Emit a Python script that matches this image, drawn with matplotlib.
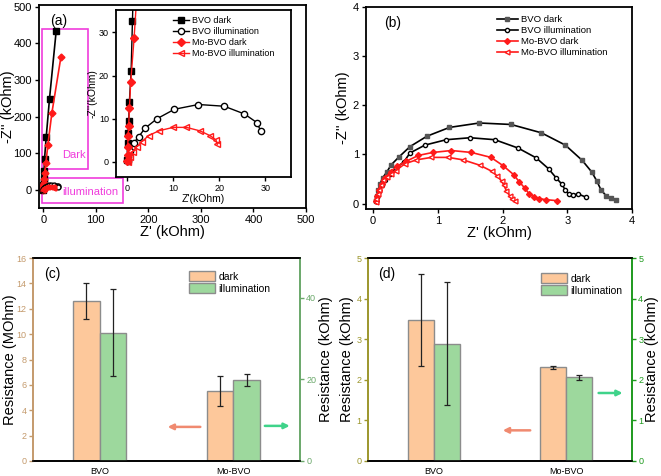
import numpy as np
import matplotlib
matplotlib.use('Agg')
import matplotlib.pyplot as plt
from matplotlib.patches import Rectangle, Patch

plt.rcParams['font.family'] = ['Liberation Sans', 'DejaVu Sans']

# ---- (a) Nyquist, wide range (kOhm) ----
bvo_dark_x = [0.05, 0.15, 0.22, 0.36, 0.5, 0.88, 1.17, 1.6, 2.5, 5.7, 12, 24.7]
bvo_dark_y = [0.5, 4.3, 6.6, 9.5, 13.9, 21, 32.6, 50, 84, 144, 249, 434]
mo_dark_x = [0.05, 0.1, 0.15, 0.22, 0.36, 0.51, 0.8, 1.53, 2.5, 5.1, 8.9, 16.5, 33.6]
mo_dark_y = [0.2, 1.5, 3.5, 6.0, 8.3, 12.4, 18.5, 28.7, 45, 73, 123, 210, 362]
bvo_ill_x = [0.1, 0.3, 0.6, 1.4, 2.5, 3.9, 6.5, 10.3, 15.5, 21.1, 25.5, 28.2, 29.0]
bvo_ill_y = [0.2, 1.2, 2.5, 4.3, 5.8, 7.8, 10.0, 12.2, 13.3, 12.9, 11.1, 9.1, 7.2]
mo_ill_x = [0.1, 0.3, 0.7, 1.2, 2.1, 3.2, 4.7, 6.9, 10.0, 12.9, 15.8, 18.0, 19.3, 19.6]
mo_ill_y = [0.0, 0.4, 1.2, 2.4, 3.5, 4.7, 6.1, 7.2, 8.0, 8.0, 7.2, 6.1, 5.1, 4.1]

# ---- (b) Nyquist, kOhm ----
b_bvo_dark_x = [0.04, 0.06, 0.08, 0.11, 0.145, 0.21, 0.28, 0.40, 0.57, 0.83, 1.18, 1.64,
                2.13, 2.60, 2.97, 3.23, 3.38, 3.46, 3.52, 3.60, 3.68, 3.76]
b_bvo_dark_y = [0.05, 0.15, 0.27, 0.40, 0.52, 0.64, 0.79, 0.95, 1.16, 1.37, 1.55, 1.64,
                1.61, 1.44, 1.19, 0.88, 0.64, 0.45, 0.28, 0.16, 0.11, 0.08]
b_bvo_ill_x = [0.04, 0.06, 0.09, 0.13, 0.18, 0.26, 0.36, 0.475, 0.57, 0.80, 1.13, 1.50, 1.88,
               2.24, 2.52, 2.71, 2.83, 2.92, 2.97, 3.02, 3.09, 3.16, 3.29]
b_bvo_ill_y = [0.05, 0.14, 0.25, 0.37, 0.49, 0.61, 0.73, 0.85, 1.03, 1.19, 1.30, 1.34, 1.30,
               1.13, 0.93, 0.71, 0.52, 0.39, 0.27, 0.20, 0.17, 0.20, 0.13]
b_mo_dark_x = [0.04, 0.06, 0.09, 0.13, 0.19, 0.27, 0.37, 0.51, 0.70, 0.92, 1.21, 1.52, 1.82,
               2.01, 2.17, 2.26, 2.34, 2.41, 2.48, 2.57, 2.67, 2.84]
b_mo_dark_y = [0.05, 0.15, 0.27, 0.40, 0.53, 0.65, 0.76, 0.86, 0.98, 1.04, 1.08, 1.04, 0.94,
               0.77, 0.59, 0.44, 0.32, 0.20, 0.14, 0.10, 0.08, 0.06]
b_mo_ill_x = [0.04, 0.05, 0.07, 0.09, 0.12, 0.16, 0.21, 0.27, 0.35, 0.49, 0.67, 0.90, 1.16,
              1.39, 1.65, 1.83, 1.92, 1.99, 2.02, 2.06, 2.11, 2.14, 2.19]
b_mo_ill_y = [0.03, 0.10, 0.19, 0.28, 0.38, 0.47, 0.55, 0.61, 0.67, 0.81, 0.89, 0.94, 0.94,
              0.89, 0.78, 0.66, 0.56, 0.45, 0.37, 0.26, 0.16, 0.10, 0.05]

# ---- (c), (d) resistances ----
samples = ['BVO', 'Mo-BVO']
c_dark = [12.6, 5.5]          # MOhm
c_dark_err = [1.4, 1.2]
c_ill = [31.4, 19.8]          # kOhm
c_ill_err = [10.7, 1.4]
d_dark = [3.47, 2.31]         # kOhm
d_dark_err = [1.13, 0.04]
d_ill = [2.89, 2.06]
d_ill_err = [1.51, 0.06]

W, H = 661, 476
fig = plt.figure(figsize=(W / 100, H / 100), dpi=100)


def box(x0, y0, x1, y1):
    return [x0 / W, 1 - y1 / H, (x1 - x0) / W, (y1 - y0) / H]


def style(ax, fs=7):
    ax.tick_params(direction='out', length=3, width=1, labelsize=fs, pad=2)
    for s in ax.spines.values():
        s.set_linewidth(1.3)


magenta = '#f03cdc'
red = '#ff1a1a'

# (a)
axA = fig.add_axes(box(39, 5, 306, 208))
axA.plot(bvo_dark_x, bvo_dark_y, 'k-s', ms=4, lw=1.2)
axA.plot(mo_dark_x, mo_dark_y, '-D', color=red, ms=3.5, lw=1.2)
axA.plot(bvo_ill_x, bvo_ill_y, 'k-o', mfc='white', ms=3.5, lw=1)
axA.plot(mo_ill_x, mo_ill_y, '-<', color=red, mfc='none', ms=3.5, lw=1)
axA.set_xlim(-8, 500)
axA.set_ylim(-50, 505)
axA.set_xticks(range(0, 501, 100))
axA.set_yticks(range(0, 501, 100))
axA.set_xlabel("Z' (kOhm)", fontsize=10.5, labelpad=0)
axA.set_ylabel("-Z'' (kOhm)", fontsize=10.5, labelpad=-1)
style(axA, 8)
axA.text(0.04, 0.955, '(a)', transform=axA.transAxes, fontsize=10, va='top')
axA.add_patch(Rectangle((-1.5, 57), 87.5, 382, fill=False, ec=magenta, lw=1.2))
axA.add_patch(Rectangle((-1.5, -36), 154, 68, fill=False, ec=magenta, lw=1.2))
axA.text(36, 95, 'Dark', color=magenta, fontsize=8, va='center')
axA.text(37, -5, 'illumination', color=magenta, fontsize=8, va='center')

axI = fig.add_axes(box(116, 10, 291, 177))
axI.plot(bvo_dark_x, bvo_dark_y, 'k-s', ms=4.5, lw=1, label='BVO dark')
axI.plot(bvo_ill_x, bvo_ill_y, 'k-o', mfc='white', ms=4.5, lw=1, label='BVO illumination')
axI.plot(mo_dark_x, mo_dark_y, '-D', color=red, ms=4, lw=1, label='Mo-BVO dark')
axI.plot(mo_ill_x, mo_ill_y, '-<', color=red, mfc='none', ms=4.5, lw=1,
         label='Mo-BVO illumination')
axI.set_xlim(-2.4, 35.6)
axI.set_ylim(-3.5, 35.2)
axI.set_xticks([0, 10, 20, 30])
axI.set_yticks([0, 10, 20, 30])
axI.set_xlabel("Z'(kOhm)", fontsize=7.5, labelpad=1)
axI.set_ylabel("-Z''(kOhm)", fontsize=7.5, labelpad=1)
style(axI, 6.5)
axI.legend(loc='upper left', bbox_to_anchor=(0.28, 1.01), frameon=False, fontsize=6.5,
           handlelength=1.8, handletextpad=0.3, labelspacing=0.2)

# (b)
axB = fig.add_axes(box(366, 7, 632, 209))
axB.plot(b_bvo_dark_x, b_bvo_dark_y, '-s', color='k', mfc='#555555', mec='#555555',
         ms=3, lw=1.2, label='BVO dark')
axB.plot(b_bvo_ill_x, b_bvo_ill_y, 'k-o', mfc='white', ms=3, lw=1.2, label='BVO illumination')
axB.plot(b_mo_dark_x, b_mo_dark_y, '-D', color=red, ms=3, lw=1.2, label='Mo-BVO dark')
axB.plot(b_mo_ill_x, b_mo_ill_y, '-<', color=red, mfc='white', ms=3.5, lw=1.2,
         label='Mo-BVO illumination')
axB.set_xlim(-0.11, 4)
axB.set_ylim(-0.11, 4)
axB.set_xticks([0, 1, 2, 3, 4])
axB.set_yticks([0, 1, 2, 3, 4])
axB.set_xlabel("Z' (kOhm)", fontsize=10.5, labelpad=0)
axB.set_ylabel("-Z'' (kOhm)", fontsize=10.5, labelpad=2)
style(axB, 8)
axB.text(0.07, 0.955, '(b)', transform=axB.transAxes, fontsize=10, va='top')
axB.legend(loc='upper left', bbox_to_anchor=(0.46, 1.0), frameon=False, fontsize=6.8,
           handlelength=2.2, handletextpad=0.4, labelspacing=0.2)

# (c), (d)
dark_c = '#fdc89b'
ill_c = '#9dd89d'
edge = '#8c8c8c'
x = np.arange(len(samples))
bw = 0.2


def bar_panel(rect, dark, dark_err, ill, ill_err, ylimL, ylimR, ticksL, ticksR,
              colL, colR, ylabL, ylabR, tag, leg_anchor, arrows, padL, padR):
    ax = fig.add_axes(rect)
    ax2 = ax.twinx()
    ax.bar(x - bw / 2, dark, bw, color=dark_c, edgecolor=edge, lw=1)
    ax.errorbar(x - bw / 2, dark, yerr=dark_err, fmt='none', ecolor='#222222',
                elinewidth=0.9, capsize=2.5, capthick=0.9)
    ax2.bar(x + bw / 2, ill, bw, color=ill_c, edgecolor=edge, lw=1)
    ax2.errorbar(x + bw / 2, ill, yerr=ill_err, fmt='none', ecolor='#222222',
                 elinewidth=0.9, capsize=2.5, capthick=0.9)
    ax.set_xlim(-0.5, 1.5)
    ax.set_ylim(*ylimL)
    ax2.set_ylim(*ylimR)
    ax.set_yticks(ticksL)
    ax2.set_yticks(ticksR)
    ax.set_xticks(x)
    ax.set_xticklabels(samples, fontsize=6.5)
    ax.tick_params(axis='x', length=0, pad=4)
    ax.tick_params(axis='y', colors=colL, labelsize=6.5, length=3, width=1, pad=1.5)
    ax2.tick_params(axis='y', colors=colR, labelsize=6.5, length=3, width=1, pad=1.5)
    for a in (ax, ax2):
        for s in a.spines.values():
            s.set_linewidth(1.2)
    ax2.spines['left'].set_color(colL)
    ax2.spines['right'].set_color(colR)
    ax.spines['left'].set_color(colL)
    ax.spines['right'].set_color(colR)
    ax.set_ylabel(ylabL, fontsize=10.5, labelpad=padL)
    ax2.set_ylabel(ylabR, fontsize=10.5, labelpad=padR)
    ax.text(0.04, 0.955, tag, transform=ax.transAxes, fontsize=10, va='top')
    handles = [Patch(facecolor=dark_c, edgecolor=edge, label='dark'),
               Patch(facecolor=ill_c, edgecolor=edge, label='illumination')]
    ax2.legend(handles=handles, loc='upper left', bbox_to_anchor=leg_anchor, frameon=False,
               fontsize=7.5, handlelength=2.5, handleheight=1.1, handletextpad=0.3,
               labelspacing=0.15, borderaxespad=0)
    for (x0, x1, yy, col) in arrows:
        ax2.annotate('', xy=(x1, yy), xytext=(x0, yy), xycoords='axes fraction',
                     textcoords='axes fraction',
                     arrowprops=dict(arrowstyle='-|>', color=col, lw=1.8,
                                     mutation_scale=8))
    return ax, ax2


bar_panel(box(33, 258, 300, 461), c_dark, c_dark_err, c_ill, c_ill_err,
          (0, 16), (0, 49.7), range(0, 17, 2), [0, 20, 40],
          '#c49a6c', '#6aa86a', 'Resistance (MOhm)', 'Resistance (kOhm)', '(c)',
          (0.57, 0.955),
          [(0.637, 0.494, 0.168, '#f08a70'), (0.858, 0.972, 0.173, '#3fd38a')],
          0, 2)

bar_panel(box(368, 258, 632, 461), d_dark, d_dark_err, d_ill, d_ill_err,
          (0, 5), (0, 5), range(0, 6), range(0, 6),
          '#9c962c', '#1e9a1e', 'Resistance (kOhm)', 'Resistance (kOhm)', '(d)',
          (0.64, 0.945),
          [(0.625, 0.5, 0.151, '#f08a70'), (0.863, 0.975, 0.335, '#3fd38a')],
          2, 1.5)

fig.savefig('out.png', dpi=100)
